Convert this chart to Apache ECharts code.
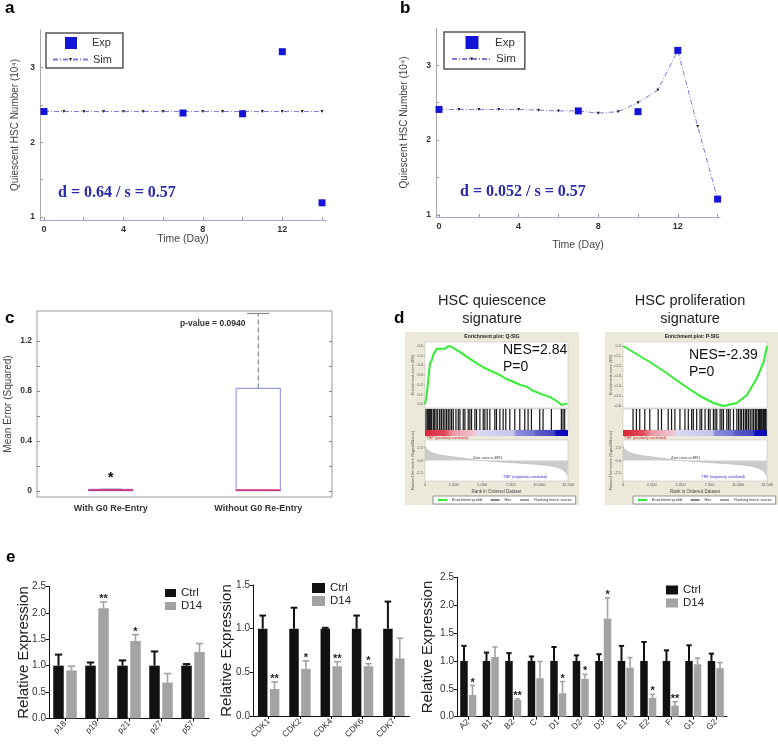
<!DOCTYPE html>
<html>
<head>
<meta charset="utf-8">
<script src="https://cdn.jsdelivr.net/npm/echarts@6/dist/echarts.min.js"></script>
<style>html,body{margin:0;padding:0;background:#fff}#main{width:778px;height:745px}</style>
</head>
<body>
<div id="main"></div>
<script>
var F = 'Arial, "Liberation Sans", sans-serif';

// ---- a / b : quiescent HSC number over time ----
var expDays = [0, 7, 10, 12, 14];
var expValsA = [2.41, 2.39, 2.38, 3.21, 1.19];
var expValsB = [2.41, 2.39, 2.38, 3.20, 1.21];
var simDays = [0, 1, 2, 3, 4, 5, 6, 7, 8, 9, 10, 11, 12, 13, 14];
var simValsA = [2.41, 2.41, 2.41, 2.41, 2.41, 2.41, 2.41, 2.41, 2.41, 2.41, 2.41, 2.41, 2.41, 2.41, 2.41];
var simValsB = [2.41, 2.41, 2.41, 2.41, 2.41, 2.40, 2.39, 2.39, 2.36, 2.38, 2.50, 2.67, 3.20, 2.18, 1.21];
var dayTicks = [0, 2, 4, 6, 8, 10, 12, 14];
var dayLabels = [0, 4, 8, 12];
var hscTicks = [1, 1.5, 2, 2.5, 3];
var hscLabels = [1, 2, 3];

// ---- c : mean error boxplot ----
var boxCats = ['With G0 Re-Entry', 'Without G0 Re-Entry'];
var boxMin = [0, 0];
var boxQ1 = [0, 0];
var boxMed = [0.005, 0.005];
var boxQ3 = [0.012, 0.82];
var boxMax = [0.012, 1.42];
var outlierCat = [0];
var outlierVal = [0.125];
var errTicks = [0, 0.2, 0.4, 0.6, 0.8, 1.0, 1.2];
var errLabels = [0, 0.4, 0.8, 1.2];

// ---- d : GSEA enrichment plots ----
var rankTicks = [0, 2500, 5000, 7500, 10000, 12500];
var qRank = [0, 90, 200, 290, 436, 580, 727, 1017, 1300, 1750, 2035, 2300, 3000, 3634, 4400, 5087, 5800, 6540, 7100, 7703, 8300, 8866, 9400, 10029, 10500, 10901, 11400, 11773, 11950, 12200, 12450];
var qES = [0, 0.05, 0.15, 0.26, 0.42, 0.45, 0.51, 0.57, 0.57, 0.57, 0.60, 0.59, 0.54, 0.49, 0.43, 0.38, 0.34, 0.30, 0.26, 0.23, 0.20, 0.18, 0.14, 0.11, 0.09, 0.075, 0.04, 0.01, -0.01, 0.0, 0.005];
var qHits = [87, 203, 320, 378, 494, 581, 727, 814, 959, 1076, 1250, 1308, 1453, 1599, 1744, 1890, 2035, 2180, 2326, 2471, 2704, 2907, 3052, 3343, 3488, 3779, 3924, 4070, 4360, 4506, 4797, 5087, 5233, 5436, 5669, 6105, 6250, 6541, 6831, 7064, 7413, 7849, 8285, 8721, 9012, 9302, 10029, 10320, 11047, 11919, 12064, 12209];
var pRank = [0, 872, 2326, 3779, 5233, 6686, 7849, 8721, 9884, 10756, 11628, 12209, 12500];
var pES = [0, -0.06, -0.16, -0.27, -0.39, -0.50, -0.57, -0.60, -0.57, -0.49, -0.32, -0.16, 0.0];
var pHits = [872, 1163, 1453, 1890, 2326, 3052, 3343, 3924, 4215, 4506, 4942, 5378, 5669, 5959, 6105, 6395, 6686, 6831, 7122, 7413, 7558, 7849, 7994, 8140, 8430, 8576, 8721, 9012, 9157, 9302, 9593, 9884, 10029, 10175, 10300, 10465, 10611, 10700, 10756, 10901, 11047, 11200, 11338, 11483, 11550, 11628, 11774, 11850, 11919, 12000, 12064, 12150, 12209, 12300, 12355, 12420];
var metricRank = [0, 100, 300, 600, 1000, 1500, 2000, 2500, 3000, 3500, 4000, 4500, 4891, 5500, 6500, 7500, 8500, 9500, 10500, 11200, 11800, 12200, 12450, 12500];
var metricVal = [2.9, 2.3, 1.9, 1.5, 1.2, 1.0, 0.85, 0.7, 0.55, 0.4, 0.25, 0.12, 0, -0.1, -0.25, -0.4, -0.55, -0.7, -0.9, -1.1, -1.5, -2.0, -2.8, -3.0];
var qEsTicks = [0, 0.1, 0.2, 0.3, 0.4, 0.5, 0.6];
var pEsTicks = [0, -0.1, -0.2, -0.3, -0.4, -0.5, -0.6];
var metricTicks = [-2.5, 0, 2.5];

// ---- e : qPCR relative expression ----
var cdkiCats = ['p18', 'p19', 'p21', 'p27', 'p57'];
var cdkiCtrl = [1, 1, 1, 1, 1];
var cdkiCtrlErr = [0.21, 0.06, 0.10, 0.27, 0.03];
var cdkiD14 = [0.91, 2.09, 1.47, 0.68, 1.26];
var cdkiD14Err = [0.08, 0.12, 0.12, 0.17, 0.16];
var cdkiStars = ['', '**', '*', '', ''];
var cdkCats = ['CDK1', 'CDK2', 'CDK4', 'CDK6', 'CDK7'];
var cdkCtrl = [1, 1, 1, 1, 1];
var cdkCtrlErr = [0.15, 0.24, 0.01, 0.15, 0.31];
var cdkD14 = [0.31, 0.54, 0.57, 0.57, 0.66];
var cdkD14Err = [0.08, 0.09, 0.05, 0.03, 0.23];
var cdkStars = ['**', '*', '**', '*', ''];
var cycCats = ['A2', 'B1', 'B2', 'C', 'D1', 'D2', 'D3', 'E1', 'E2', 'F', 'G1', 'G2'];
var cycCtrl = [1, 1, 1, 1, 1, 1, 1, 1, 1, 1, 1, 1];
var cycCtrlErr = [0.27, 0.15, 0.14, 0.08, 0.25, 0.10, 0.12, 0.27, 0.34, 0.19, 0.28, 0.13];
var cycD14 = [0.39, 1.07, 0.30, 0.69, 0.42, 0.68, 1.76, 0.88, 0.34, 0.20, 0.94, 0.87];
var cycD14Err = [0.17, 0.18, 0.02, 0.30, 0.21, 0.08, 0.37, 0.18, 0.06, 0.07, 0.11, 0.10];
var cycStars = ['*', '', '**', '', '*', '*', '*', '', '*', '**', '', ''];
var exprTicks25 = [0, 0.5, 1, 1.5, 2, 2.5];

var option = {
    animation: false,
    backgroundColor: '#fff',
    textStyle: {fontFamily: F},
    grid: [], xAxis: [], yAxis: [], series: [], legend: [],
    graphic: {elements: []}
};

function zip(a, b) {
    return a.map(function (v, i) { return [v, b[i]]; });
}
function txt(x, y, s, font, fill, align, va) {
    return {type: 'text', x: x, y: y, z: 100, silent: true,
        style: {text: s, font: font, fill: fill || '#000',
            textAlign: align || 'left', align: align || 'left',
            textVerticalAlign: va || 'middle', verticalAlign: va || 'middle'}};
}
var G = option.graphic.elements;

// ---------- panels a, b ----------
function addTimePanel(box, xr, yr, expVals, simVals, gapY, gapX) {
    var gi = option.grid.length, xi = option.xAxis.length, yi = option.yAxis.length;
    option.grid.push({left: box[0], top: box[1], width: box[2], height: box[3], outerBoundsMode: 'none'});
    option.xAxis.push({type: 'value', gridIndex: gi, min: xr[0], max: xr[1],
        axisLine: {show: true, onZero: false, lineStyle: {color: '#a9a9d6', width: 1}},
        axisTick: {show: true, inside: true, length: 3, customValues: dayTicks, lineStyle: {color: '#999'}},
        axisLabel: {show: true, customValues: dayLabels, fontSize: 9, fontWeight: 'bold', color: '#333', margin: 5, fontFamily: F},
        splitLine: {show: false},
        name: 'Time (Day)', nameLocation: 'middle', nameGap: gapX, nameMoveOverlap: false,
        nameTextStyle: {fontSize: 10.5, color: '#444', fontFamily: F}});
    option.yAxis.push({type: 'value', gridIndex: gi, min: yr[0], max: yr[1],
        axisLine: {show: true, onZero: false, lineStyle: {color: '#aaa', width: 1}},
        axisTick: {show: true, inside: true, length: 3, customValues: hscTicks, lineStyle: {color: '#999'}},
        axisLabel: {show: true, customValues: hscLabels, fontSize: 8.5, fontWeight: 'bold', color: '#333', margin: 5, fontFamily: F},
        splitLine: {show: false},
        name: 'Quiescent HSC Number (10\u2074)', nameLocation: 'middle', nameGap: gapY, nameRotate: 90, nameMoveOverlap: false,
        nameTextStyle: {fontSize: 10, color: '#444', fontFamily: F}});
    option.series.push({name: 'Sim', type: 'line', xAxisIndex: xi, yAxisIndex: yi,
        data: zip(simDays, simVals), symbol: 'triangle', symbolRotate: 180, symbolSize: 3,
        itemStyle: {color: '#222', opacity: 1}, lineStyle: {color: '#7b7bd8', width: 1, type: [5, 2, 1, 2]}, z: 2});
    option.series.push({name: 'Exp', type: 'scatter', xAxisIndex: xi, yAxisIndex: yi,
        data: zip(expDays, expVals), symbol: 'rect', symbolSize: 7,
        itemStyle: {color: '#1414d8', opacity: 1}, z: 3});
}
addTimePanel([40, 30, 286, 190], [-0.2, 14.2], [0.96, 3.5], expValsA, simValsA, 20, 14);
addTimePanel([436, 28, 284, 189], [-0.15, 14.12], [0.97, 3.5], expValsB, simValsB, 27, 23);

// legends a / b  (Exp box with border, Sim line inside it)
option.legend.push({left: 46, top: 33, orient: 'vertical', selectedMode: false,
    data: [{name: 'Exp', icon: 'path://M0,0L0,0M35,12L35,12M13,0L25,0L25,12L13,12Z'}],
    itemWidth: 35, itemHeight: 12, padding: [4, 12, 19, 6],
    borderColor: '#555', borderWidth: 1.5, borderRadius: 0, backgroundColor: '#fff',
    textStyle: {fontSize: 11, color: '#333', fontFamily: F}});
option.legend.push({left: 52, top: 54, orient: 'vertical', selectedMode: false,
    data: ['Sim'], itemWidth: 35, itemHeight: 4, padding: 0,
    textStyle: {fontSize: 11, color: '#333', fontFamily: F}});
option.legend.push({left: 444, top: 32, orient: 'vertical', selectedMode: false,
    data: [{name: 'Exp', icon: 'path://M0,0L0,0M39,13L39,13M14.5,0L27.5,0L27.5,13L14.5,13Z'}],
    itemWidth: 39, itemHeight: 13, padding: [4, 10, 20, 7],
    borderColor: '#555', borderWidth: 1.5, borderRadius: 0, backgroundColor: '#fff',
    textStyle: {fontSize: 11.5, color: '#333', fontFamily: F}});
option.legend.push({left: 451, top: 53, orient: 'vertical', selectedMode: false,
    data: ['Sim'], itemWidth: 39, itemHeight: 4, padding: 0,
    textStyle: {fontSize: 11.5, color: '#333', fontFamily: F}});

G.push(txt(58, 193, 'd = 0.64 / s = 0.57', 'bold 16px "Liberation Serif", "Times New Roman", serif', '#2828b0'));
G.push(txt(460, 192, 'd = 0.052 / s = 0.57', 'bold 16px "Liberation Serif", "Times New Roman", serif', '#2828b0'));
G.push(txt(5, 8, 'a', 'bold 17px ' + F, '#000'));
G.push(txt(400, 8, 'b', 'bold 17px ' + F, '#000'));

// ---------- panel c ----------
(function () {
    var gi = option.grid.length, xi = option.xAxis.length, yi = option.yAxis.length;
    option.grid.push({left: 37, top: 311, width: 295, height: 186, show: true,
        backgroundColor: '#fff', borderColor: '#999', borderWidth: 1, outerBoundsMode: 'none'});
    option.xAxis.push({type: 'category', gridIndex: gi, data: boxCats,
        axisLine: {show: false}, axisTick: {show: false},
        axisLabel: {fontSize: 9, fontWeight: 'bold', color: '#333', margin: 7, fontFamily: F}});
    var yBase = {type: 'value', gridIndex: gi, min: -0.05, max: 1.44,
        axisLine: {show: false, onZero: false},
        axisTick: {show: true, inside: true, length: 3, customValues: errTicks, lineStyle: {color: '#888'}},
        splitLine: {show: false}};
    option.yAxis.push(Object.assign({}, yBase, {position: 'left',
        axisLabel: {customValues: errLabels, fontSize: 8.5, fontWeight: 'bold', color: '#333', margin: 5, fontFamily: F,
            formatter: function (v) { return v === 0 ? '0' : v.toFixed(1); }},
        name: 'Mean Error (Squared)', nameLocation: 'middle', nameGap: 24, nameRotate: 90, nameMoveOverlap: false,
        nameTextStyle: {fontSize: 10, color: '#444', fontFamily: F}}));
    option.yAxis.push(Object.assign({}, yBase, {position: 'right', axisLabel: {show: false}}));
    option.series.push({type: 'custom', xAxisIndex: xi, yAxisIndex: yi, z: 3, silent: true,
        data: boxCats.map(function (c, i) { return [i, boxMin[i], boxQ1[i], boxMed[i], boxQ3[i], boxMax[i]]; }),
        encode: {x: 0, y: [1, 2, 3, 4, 5]},
        renderItem: function (params, api) {
            var i = api.value(0);
            var band = api.size([1, 0])[0];
            var w = band * 0.3, cw = band * 0.15;
            var pMin = api.coord([i, api.value(1)]), pQ1 = api.coord([i, api.value(2)]);
            var pMed = api.coord([i, api.value(3)]), pQ3 = api.coord([i, api.value(4)]);
            var pMax = api.coord([i, api.value(5)]);
            var x = pMed[0];
            var wh = {stroke: '#888', lineWidth: 1.2, lineDash: [5, 3]};
            return {type: 'group', children: [
                {type: 'line', shape: {x1: x, y1: pQ3[1], x2: x, y2: pMax[1]}, style: wh},
                {type: 'line', shape: {x1: x, y1: pQ1[1], x2: x, y2: pMin[1]}, style: wh},
                {type: 'line', shape: {x1: x - cw / 2, y1: pMax[1], x2: x + cw / 2, y2: pMax[1]}, style: {stroke: '#888', lineWidth: 1.2}},
                {type: 'rect', shape: {x: x - w / 2, y: pQ3[1], width: w, height: pQ1[1] - pQ3[1]},
                    style: {fill: 'none', stroke: '#9d9df0', lineWidth: 1.2}},
                {type: 'line', shape: {x1: x - w / 2, y1: pMed[1], x2: x + w / 2, y2: pMed[1]}, style: {stroke: '#d0307a', lineWidth: 1.6}}
            ]};
        }});
    option.series.push({type: 'custom', xAxisIndex: xi, yAxisIndex: yi, z: 4, silent: true,
        data: zip(outlierCat, outlierVal),
        renderItem: function (params, api) {
            var p = api.coord([api.value(0), api.value(1)]);
            return {type: 'text', x: p[0], y: p[1] + 3,
                style: {text: '*', font: 'bold 15px ' + F, fill: '#111', align: 'center', verticalAlign: 'middle'}};
        }});
})();
G.push(txt(180, 324, 'p-value = 0.0940', 'bold 8.5px ' + F, '#333'));
G.push(txt(5, 318, 'c', 'bold 17px ' + F, '#000'));

// ---------- panel d ----------
function fmtRank(v) { return String(v).replace(/\B(?=(\d{3})+(?!\d))/g, ','); }
function addGsea(left, width, rank, es, esRange, esTicks, hits) {
    var tops = [[342, 66], [409, 21], [430, 6], [440, 41]];
    var gi = option.grid.length, xi = option.xAxis.length, yi = option.yAxis.length;
    tops.forEach(function (t, k) {
        option.grid.push({left: left, top: t[0], width: width, height: t[1], show: k !== 2,
            backgroundColor: '#fff', borderColor: '#bbb', borderWidth: 0.5, outerBoundsMode: 'none'});
    });
    var tiny = {fontSize: 4, color: '#555', fontFamily: F};
    // ES
    option.xAxis.push({type: 'value', gridIndex: gi, min: 0, max: 12500, show: false});
    option.yAxis.push({type: 'value', gridIndex: gi, min: esRange[0], max: esRange[1],
        axisLine: {show: false, onZero: false}, splitLine: {show: false},
        axisTick: {show: true, length: 1.5, customValues: esTicks, lineStyle: {color: '#999', width: 0.5}},
        axisLabel: Object.assign({customValues: esTicks, margin: 2, formatter: function (v) { return v.toFixed(1); }}, tiny),
        name: 'Enrichment score (ES)', nameLocation: 'middle', nameGap: 10, nameRotate: 90, nameMoveOverlap: false, nameTextStyle: tiny});
    option.series.push({name: 'Enrichment profile', type: 'line', xAxisIndex: xi, yAxisIndex: yi,
        data: zip(rank, es), symbol: 'none', lineStyle: {color: '#33ee33', width: 2}, itemStyle: {color: '#33ee33'}});
    // hits
    option.xAxis.push({type: 'value', gridIndex: gi + 1, min: 0, max: 12500, show: false});
    option.yAxis.push({type: 'value', gridIndex: gi + 1, min: 0, max: 1, show: false});
    option.series.push({name: 'Hits', type: 'bar', xAxisIndex: xi + 1, yAxisIndex: yi + 1,
        data: hits.map(function (r) { return [r, 1]; }), barWidth: 1.2, itemStyle: {color: '#151515'}});
    // rank gradient
    option.xAxis.push({type: 'value', gridIndex: gi + 2, min: 0, max: 1, show: false});
    option.yAxis.push({type: 'category', gridIndex: gi + 2, data: ['g'], show: false});
    option.series.push({type: 'bar', xAxisIndex: xi + 2, yAxisIndex: yi + 2, data: [1], barWidth: '100%', silent: true,
        itemStyle: {color: new echarts.graphic.LinearGradient(0, 0, 1, 0, [
            {offset: 0, color: '#d9263a'}, {offset: 0.14, color: '#e04a5a'}, {offset: 0.2, color: '#ee9aaa'},
            {offset: 0.35, color: '#f2c6d2'}, {offset: 0.37, color: '#dadaf4'}, {offset: 0.62, color: '#c4c4ee'},
            {offset: 0.64, color: '#8c8cdc'}, {offset: 0.76, color: '#7676d4'}, {offset: 0.78, color: '#5a5ac8'},
            {offset: 0.9, color: '#4646c2'}, {offset: 0.92, color: '#1010c0'}, {offset: 1, color: '#0808b8'}])}});
    // ranked list metric
    option.xAxis.push({type: 'value', gridIndex: gi + 3, min: 0, max: 12500,
        axisLine: {show: false, onZero: false}, splitLine: {show: false},
        axisTick: {show: true, length: 1.5, customValues: rankTicks, lineStyle: {color: '#999', width: 0.5}},
        axisLabel: Object.assign({customValues: rankTicks, margin: 2, formatter: fmtRank}, tiny),
        name: 'Rank in Ordered Dataset', nameLocation: 'middle', nameGap: 8, nameMoveOverlap: false,
        nameTextStyle: {fontSize: 4.5, color: '#444', fontFamily: F}});
    option.yAxis.push({type: 'value', gridIndex: gi + 3, min: -4, max: 4,
        axisLine: {show: false, onZero: false}, splitLine: {show: false},
        axisTick: {show: true, length: 1.5, customValues: metricTicks, lineStyle: {color: '#999', width: 0.5}},
        axisLabel: Object.assign({customValues: metricTicks, margin: 2, formatter: function (v) { return v.toFixed(1); }}, tiny),
        name: 'Ranked list metric (Signal2Noise)', nameLocation: 'middle', nameGap: 10, nameRotate: 90, nameMoveOverlap: false, nameTextStyle: tiny});
    option.series.push({name: 'Ranking metric scores', type: 'line', xAxisIndex: xi + 3, yAxisIndex: yi + 3,
        data: zip(metricRank, metricVal), symbol: 'none',
        lineStyle: {color: '#a0a0a0', width: 0.5}, itemStyle: {color: '#a0a0a0'},
        areaStyle: {color: '#b8b8b8', origin: 0}});
}
addGsea(425, 143, qRank, qES, [-0.04, 0.64], qEsTicks, qHits);
addGsea(623, 144, pRank, pES, [-0.62, 0.04], pEsTicks, pHits);

[[405, 'Q-SIG'], [605, 'P-SIG']].forEach(function (d, k) {
    var x0 = d[0], gl = k === 0 ? 425 : 623;
    G.push({type: 'rect', z: -100, silent: true, shape: {x: x0, y: 332, width: 174, height: 173},
        style: {fill: '#ede9da'}});
    G.push(txt(x0 + 87, 337, 'Enrichment plot: ' + d[1], 'bold 5px ' + F, '#222', 'center'));
    G.push(txt(gl + 1, 438, "'TNF' (positively correlated)", '3.5px ' + F, '#d02020'));
    G.push(txt(gl + 48, 458, 'Zero cross at 4891', '3.5px ' + F, '#333'));
    G.push(txt(gl + 78, 477, "'TNF' (negatively correlated)", '3.5px ' + F, '#3030d0'));
    option.legend.push({left: x0 + 28, top: 496, orient: 'horizontal', selectedMode: false,
        data: ['Enrichment profile', 'Hits', 'Ranking metric scores'],
        itemWidth: 9, itemHeight: 1, itemGap: 8, padding: [2, 4],
        borderColor: '#555', borderWidth: 0.6, borderRadius: 0, backgroundColor: '#fff',
        textStyle: {fontSize: 3.8, color: '#333', fontFamily: F}});
});
G.push(txt(492, 301, 'HSC quiescence', '14.5px ' + F, '#222', 'center'));
G.push(txt(492, 319, 'signature', '14.5px ' + F, '#222', 'center'));
G.push(txt(690, 301, 'HSC proliferation', '14.5px ' + F, '#222', 'center'));
G.push(txt(690, 319, 'signature', '14.5px ' + F, '#222', 'center'));
G.push(txt(503, 350, 'NES=2.84', '14px ' + F, '#111'));
G.push(txt(503, 367, 'P=0', '14px ' + F, '#111'));
G.push(txt(689, 355, 'NES=-2.39', '14px ' + F, '#111'));
G.push(txt(689, 372, 'P=0', '14px ' + F, '#111'));
G.push(txt(394, 318, 'd', 'bold 17px ' + F, '#000'));

// ---------- panel e ----------
function addBarChart(box, cats, ctrl, ctrlErr, d14, d14Err, stars, yMax, barW, gap, nameGap, leg) {
    var gi = option.grid.length, xi = option.xAxis.length, yi = option.yAxis.length;
    var ticks = exprTicks25.filter(function (t) { return t <= yMax; });
    option.grid.push({left: box[0], top: box[1], width: box[2], height: box[3], outerBoundsMode: 'none'});
    option.xAxis.push({type: 'category', gridIndex: gi, data: cats,
        axisLine: {show: true, lineStyle: {color: '#111', width: 1}},
        axisTick: {show: true, alignWithLabel: true, length: 3, lineStyle: {color: '#111'}},
        axisLabel: {rotate: 45, fontSize: 8.5, color: '#333', margin: 4, fontFamily: F, interval: 0}});
    option.yAxis.push({type: 'value', gridIndex: gi, min: 0, max: yMax, interval: 0.5,
        axisLine: {show: true, onZero: false, lineStyle: {color: '#111', width: 1}},
        axisTick: {show: true, length: 3, lineStyle: {color: '#111'}},
        axisLabel: {fontSize: 10, color: '#333', margin: 3, fontFamily: F, customValues: ticks,
            formatter: function (v) { return v.toFixed(1); }},
        splitLine: {show: false},
        name: 'Relative Expression', nameLocation: 'middle', nameGap: nameGap, nameRotate: 90, nameMoveOverlap: false,
        nameTextStyle: {fontSize: 15, color: '#222', fontFamily: F}});
    option.series.push({name: 'Ctrl', type: 'bar', xAxisIndex: xi, yAxisIndex: yi, data: ctrl,
        barWidth: barW, barGap: gap * 100 + '%', itemStyle: {color: '#111'}, z: 2});
    option.series.push({name: 'D14', type: 'bar', xAxisIndex: xi, yAxisIndex: yi, data: d14,
        barWidth: barW, barGap: gap * 100 + '%', itemStyle: {color: '#a3a3a3'}, z: 2});
    var off = barW * (1 + gap) / 2;
    function errSeries(vals, errs, st, dx, color, lw) {
        return {type: 'custom', xAxisIndex: xi, yAxisIndex: yi, z: 3, silent: true,
            data: vals.map(function (v, i) { return [i, v, errs[i]]; }),
            renderItem: function (params, api) {
                var i = api.value(0), v = api.value(1), e = api.value(2);
                var p0 = api.coord([i, v]), p1 = api.coord([i, v + e]);
                var x = p0[0] + dx, cw = barW * 0.7;
                var ch = [
                    {type: 'line', shape: {x1: x, y1: p0[1], x2: x, y2: p1[1]}, style: {stroke: color, lineWidth: lw}},
                    {type: 'line', shape: {x1: x - cw / 2, y1: p1[1], x2: x + cw / 2, y2: p1[1]}, style: {stroke: color, lineWidth: lw}}
                ];
                var s = st ? st[params.dataIndex] : '';
                if (s) {
                    ch.push({type: 'text', x: x, y: p1[1] - 3,
                        style: {text: s, font: 'bold 11px ' + F, fill: '#222', align: 'center', verticalAlign: 'middle'}});
                }
                return {type: 'group', children: ch};
            }};
    }
    option.series.push(errSeries(ctrl, ctrlErr, null, -off, '#111', 2));
    option.series.push(errSeries(d14, d14Err, stars, off, '#a3a3a3', 1.6));
    option.legend.push({left: leg[0], top: leg[1], orient: 'vertical', selectedMode: false,
        data: ['Ctrl', 'D14'], icon: 'rect', itemWidth: leg[2], itemHeight: leg[3], itemGap: leg[4], padding: 0,
        textStyle: {fontSize: 11.5, color: '#222', fontFamily: F}});
}
addBarChart([49, 586.7, 160, 131.6], cdkiCats, cdkiCtrl, cdkiCtrlErr, cdkiD14, cdkiD14Err, cdkiStars, 2.5, 10.5, 0.24, 17.5, [165, 587, 11, 8, 1]);
addBarChart([253, 585, 156.5, 131], cdkCats, cdkCtrl, cdkCtrlErr, cdkD14, cdkD14Err, cdkStars, 1.5, 9.5, 0.25, 18.5, [312, 582, 13, 10, 1]);
addBarChart([457, 577.3, 270, 139.4], cycCats, cycCtrl, cycCtrlErr, cycD14, cycD14Err, cycStars, 2.5, 7.5, 0.14, 21.5, [666, 584, 12, 9, 1]);
G.push(txt(6, 557, 'e', 'bold 17px ' + F, '#000'));

var chart = echarts.init(document.getElementById('main'), null, {renderer: 'canvas'});
chart.setOption(option);
</script>
</body>
</html>
